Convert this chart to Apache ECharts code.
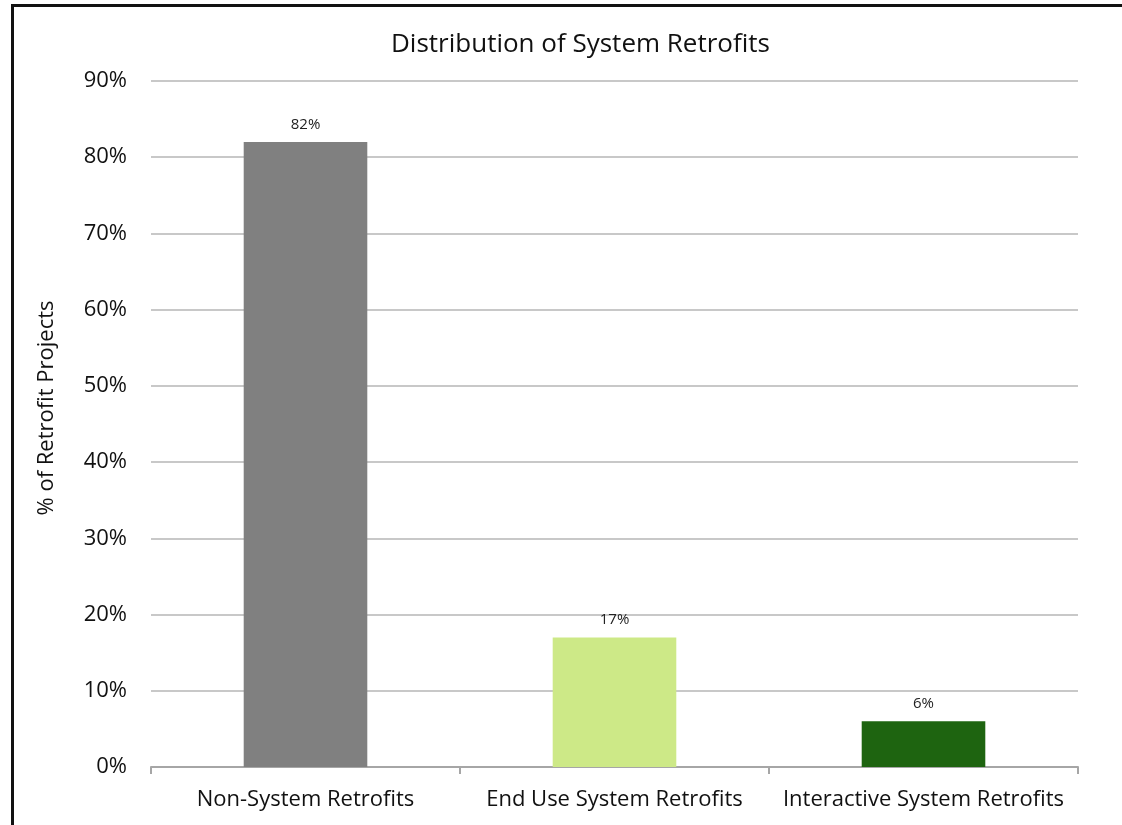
<!DOCTYPE html>
<html>
<head>
<meta charset="utf-8">
<title>Distribution of System Retrofits</title>
<script src="https://cdn.jsdelivr.net/npm/echarts@6/dist/echarts.min.js"></script>
<style>
  html, body { margin: 0; padding: 0; background: #fff; }
  #chart { width: 1122px; height: 825px; }
</style>
</head>
<body>
<div id="chart"></div>
<script>
const categories = ['Non-System Retrofits', 'End Use System Retrofits', 'Interactive System Retrofits']
const shares = [82, 17, 6]
const barColors = ['#808080', '#cde987', '#1e6410']
const yTicks = [0, 10, 20, 30, 40, 50, 60, 70, 80, 90]

const font = '"Open Sans", "Noto Sans", sans-serif'
const chart = echarts.init(document.getElementById('chart'))

chart.setOption({
  animation: false,
  backgroundColor: '#fff',
  textStyle: { fontFamily: font },
  title: {
    text: 'Distribution of System Retrofits',
    left: 386,
    top: 27,
    textStyle: { fontFamily: font, fontSize: 26, fontWeight: 'normal', color: '#111' },
  },
  graphic: [
    {
      type: 'rect',
      shape: { x: 12.5, y: 5.5, width: 1200, height: 1000 },
      style: { fill: 'none', stroke: '#111', lineWidth: 3 },
      silent: true,
    },
  ],
  grid: { left: 151, right: 44, top: 81, bottom: 58 },
  xAxis: {
    type: 'category',
    data: categories,
    axisLine: { lineStyle: { color: '#a6a6a6', width: 2 } },
    axisTick: { show: true, alignWithLabel: false, length: 7, lineStyle: { color: '#a6a6a6', width: 2 } },
    axisLabel: { interval: 0, hideOverlap: false, fontSize: 22, color: '#111', margin: 22, fontFamily: font },
  },
  yAxis: {
    type: 'value',
    min: yTicks[0],
    max: yTicks[yTicks.length - 1],
    interval: 10,
    name: '% of Retrofit Projects',
    nameLocation: 'middle',
    nameGap: 93,
    nameRotate: 90,
    nameTextStyle: { fontSize: 22, color: '#111', fontFamily: font, padding: [0, 0, 0, 32] },
    axisLine: { show: false },
    axisTick: { show: false },
    axisLabel: { formatter: '{value}%', fontSize: 22, color: '#111', margin: 24, fontFamily: font },
    splitLine: { lineStyle: { color: '#c8c8c8', width: 2 } },
  },
  series: [
    {
      type: 'bar',
      barWidth: '40%',
      data: shares.map((v, i) => ({ value: v, itemStyle: { color: barColors[i] } })),
      label: {
        show: true,
        position: 'top',
        distance: 10,
        formatter: '{c}%',
        fontSize: 15,
        color: '#222',
        fontFamily: font,
      },
    },
  ],
})
</script>
</body>
</html>
